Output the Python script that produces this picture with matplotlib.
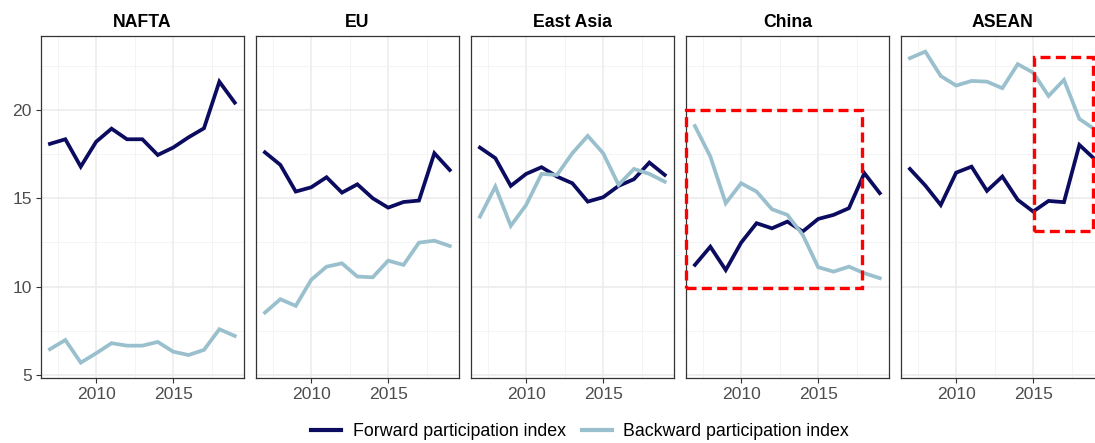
import numpy as np
import matplotlib
matplotlib.use('Agg')
import matplotlib.pyplot as plt
from matplotlib.lines import Line2D
from matplotlib.patches import Rectangle

plt.rcParams['font.family'] = ['Liberation Sans', 'DejaVu Sans']

# data
years = list(range(2007, 2020))
regions = ['NAFTA', 'EU', 'East Asia', 'China', 'ASEAN']

forward = {
    'NAFTA':     [18.08, 18.34, 16.79, 18.20, 18.94, 18.34, 18.34, 17.45, 17.87, 18.45, 18.96, 21.60, 20.41],
    'EU':        [17.60, 16.89, 15.38, 15.62, 16.19, 15.32, 15.79, 15.00, 14.47, 14.79, 14.87, 17.55, 16.60],
    'East Asia': [17.87, 17.27, 15.70, 16.38, 16.76, 16.23, 15.85, 14.81, 15.06, 15.70, 16.08, 17.02, 16.32],
    'China':     [11.23, 12.26, 10.94, 12.49, 13.59, 13.30, 13.68, 13.12, 13.83, 14.06, 14.44, 16.42, 15.29],
    'ASEAN':     [16.66, 15.72, 14.62, 16.45, 16.79, 15.42, 16.23, 14.91, 14.25, 14.85, 14.78, 18.02, 17.21],
}
backward = {
    'NAFTA':     [6.46, 6.98, 5.70, 6.23, 6.80, 6.66, 6.66, 6.87, 6.32, 6.13, 6.42, 7.59, 7.21],
    'EU':        [8.53, 9.29, 8.91, 10.38, 11.13, 11.32, 10.57, 10.53, 11.47, 11.23, 12.49, 12.60, 12.30],
    'East Asia': [13.96, 15.66, 13.44, 14.62, 16.38, 16.32, 17.55, 18.53, 17.55, 15.76, 16.66, 16.38, 15.94],
    'China':     [19.09, 17.36, 14.72, 15.85, 15.38, 14.38, 14.06, 12.93, 11.10, 10.85, 11.13, 10.76, 10.48],
    'ASEAN':     [22.93, 23.30, 21.92, 21.38, 21.64, 21.60, 21.23, 22.59, 22.11, 20.79, 21.70, 19.49, 18.90],
}

# highlight boxes: region -> (x0, x1, y0, y1)
boxes = {
    'China': (2006.45, 2017.85, 9.9, 20.0),
    'ASEAN': (2015.05, 2018.9, 13.17, 22.98),
}

fwd_col = '#0b0b60'
bwd_col = '#9AC0CD'

W, H = 1095, 443
fig = plt.figure(figsize=(W / 100, H / 100), dpi=100)

left0, pw, step = 40.7, 203.3, 215.0
top, bot = 35.7, 378.0

for i, reg in enumerate(regions):
    x = left0 + i * step
    ax = fig.add_axes([x / W, 1 - bot / H, pw / W, (bot - top) / H])
    ax.set_xlim(2006.4, 2019.6)
    ax.set_ylim(4.83, 24.2)
    ax.set_xticks([2010, 2015])
    ax.set_xticks([2007.5, 2012.5, 2017.5], minor=True)
    ax.set_yticks([5, 10, 15, 20])
    ax.set_yticks([7.5, 12.5, 17.5, 22.5], minor=True)
    ax.grid(which='major', color='#EBEBEB', lw=1.1)
    ax.grid(which='minor', color='#F2F2F2', lw=0.6)
    ax.set_axisbelow(True)
    for s in ax.spines.values():
        s.set_color('#333333')
        s.set_linewidth(0.9)
    ax.tick_params(which='major', length=3.5, width=0.8, color='#333333',
                   labelcolor='#4D4D4D', labelsize=12.6, pad=3)
    ax.tick_params(which='minor', length=0)
    if i > 0:
        ax.tick_params(axis='y', labelleft=False, length=0)

    ax.plot(years, forward[reg], color=fwd_col, lw=2.7, solid_joinstyle='miter')
    ax.plot(years, backward[reg], color=bwd_col, lw=2.7, solid_joinstyle='miter')

    if reg in boxes:
        x0, x1, y0, y1 = boxes[reg]
        ax.add_patch(Rectangle((x0, y0), x1 - x0, y1 - y0, fill=False,
                               edgecolor='#FF0000', lw=2.4, ls=(0, (3, 1.6)),
                               zorder=5, clip_on=False))

    ax.set_title(reg, fontsize=12.7, fontweight='bold', pad=6)

handles = [Line2D([], [], color=fwd_col, lw=3.0),
           Line2D([], [], color=bwd_col, lw=3.0)]
fig.legend(handles, ['Forward participation index', 'Backward participation index'],
           loc='center', bbox_to_anchor=(580 / W, 1 - 432 / H), ncol=2,
           frameon=False, fontsize=12.8, handlelength=1.7, columnspacing=0.9,
           handletextpad=0.65)

fig.savefig('out.png', dpi=100)
